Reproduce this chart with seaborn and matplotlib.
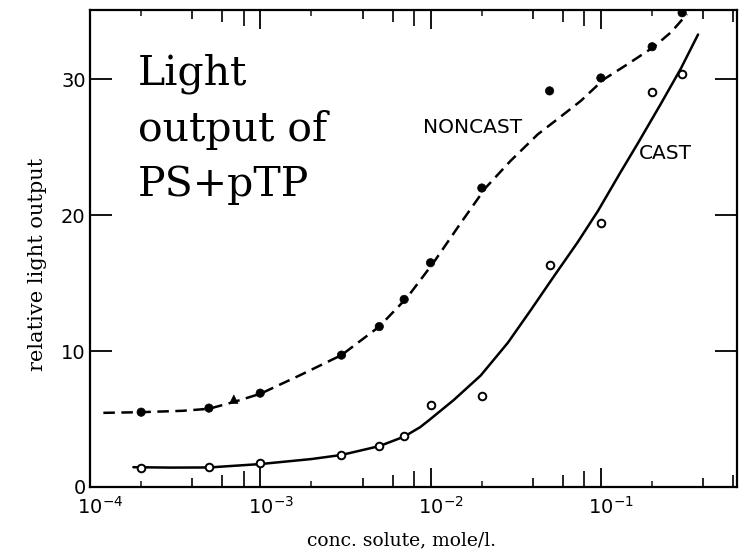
import matplotlib
matplotlib.use("Agg")
import matplotlib.pyplot as plt
import seaborn as sns
import pandas as pd
from matplotlib.ticker import NullLocator, LogLocator, NullFormatter
from matplotlib.transforms import ScaledTranslation

# Measured light output, non-cast samples (filled symbols)
conc_noncast = [2e-4, 5e-4, 7e-4, 1e-3, 3e-3, 5e-3, 7e-3, 1e-2, 2e-2, 5e-2, 1e-1, 2e-1, 3e-1]
light_noncast = [5.5, 5.8, 6.45, 6.9, 9.7, 11.8, 13.8, 16.5, 22.0, 29.15, 30.1, 32.4, 34.9]
symbol_noncast = ["dot", "dot", "tri", "dot", "dot", "dot", "dot", "dot", "dot", "dot", "dot", "dot", "dot"]

# Measured light output, cast samples (open symbols)
conc_cast = [2e-4, 5e-4, 1e-3, 3e-3, 5e-3, 7e-3, 1e-2, 2e-2, 5e-2, 1e-1, 2e-1, 3e-1]
light_cast = [1.4, 1.45, 1.75, 2.35, 3.0, 3.75, 6.0, 6.7, 16.3, 19.4, 29.1, 30.4]

# Drawn trend curves through each set
curve_noncast_conc = [1.2e-4, 2e-4, 3.5e-4, 5e-4, 7e-4, 1e-3, 1.7e-3, 3e-3, 5e-3, 7.3e-3,
                      1.04e-2, 1.5e-2, 2.1e-2, 2.95e-2, 4.26e-2, 5.6e-2, 7.6e-2,
                      1.04e-1, 1.45e-1, 2.05e-1, 2.6e-1, 3.2e-1]
curve_noncast_light = [5.45, 5.5, 5.6, 5.75, 6.25, 6.85, 8.2, 9.7, 11.8, 13.95,
                       16.5, 19.4, 22.0, 24.0, 25.95, 27.1, 28.4,
                       30.0, 31.15, 32.4, 33.5, 34.8]

curve_cast_conc = [1.8e-4, 3e-4, 5e-4, 1e-3, 2e-3, 3e-3, 5e-3, 7e-3, 8.7e-3, 1.0e-2,
                   1.37e-2, 1.97e-2, 2.84e-2, 3.87e-2, 5.3e-2, 7.3e-2, 9.6e-2,
                   1.31e-1, 1.65e-1, 2.25e-1, 2.95e-1, 3.72e-1]
curve_cast_light = [1.45, 1.42, 1.43, 1.68, 2.05, 2.35, 3.0, 3.7, 4.4, 5.0,
                    6.4, 8.2, 10.6, 13.0, 15.5, 18.0, 20.3,
                    23.2, 25.3, 28.2, 30.8, 33.3]

major_ticks = [1e-4, 1e-3, 1e-2, 1e-1]
major_labels = [r"$10^{-4}$", r"$10^{-3}$", r"$10^{-2}$", r"$10^{-1}$"]
y_ticks = [0, 10, 20, 30]

sns.set_theme(style="white")
plt.rcParams["font.family"] = ["DejaVu Sans"]

fig, ax = plt.subplots(figsize=(7.49, 5.59), dpi=100)
fig.subplots_adjust(left=0.120, right=0.984, bottom=0.129, top=0.982)

noncast = pd.DataFrame({"conc": conc_noncast, "light": light_noncast, "symbol": symbol_noncast})
cast = pd.DataFrame({"conc": conc_cast, "light": light_cast})

sns.lineplot(x=curve_noncast_conc, y=curve_noncast_light, ax=ax, color="black",
             linewidth=1.8, linestyle=(0, (4.6, 2.6)), sort=False)
sns.lineplot(x=curve_cast_conc, y=curve_cast_light, ax=ax, color="black",
             linewidth=1.8, sort=False)

sns.scatterplot(data=noncast, x="conc", y="light", style="symbol",
                markers={"dot": "o", "tri": "^"}, s=36, color="black",
                edgecolor="black", linewidth=0.5, legend=False, ax=ax, zorder=3)
sns.scatterplot(data=cast, x="conc", y="light", marker="o", s=30, color="white",
                edgecolor="black", linewidth=1.4, legend=False, ax=ax, zorder=3)

ax.set_xscale("log")
ax.set_xlim(1e-4, 0.63)
ax.set_ylim(0, 35.1)

ax.set_xticks(major_ticks, major_labels)
ax.xaxis.set_minor_locator(LogLocator(base=10, subs=[2.0], numticks=20))
ax.xaxis.set_minor_formatter(NullFormatter())
ax.set_yticks(y_ticks, [str(v) for v in y_ticks])

ax.tick_params(axis="x", which="major", direction="in", length=13.5, width=1.3,
               top=True, bottom=True, labelsize=14, pad=6.5, colors="black")
ax.tick_params(axis="x", which="minor", direction="in", length=4.5, width=1.2,
               top=True, bottom=True)
ax.tick_params(axis="y", which="major", direction="in", length=16, width=1.3,
               left=True, right=True, labelsize=14, pad=3, colors="black")

# keep the mantissa "10" centred on its tick, exponent hanging to the right
shift = ScaledTranslation(-12.4 / 100, 0, fig.dpi_scale_trans)
for lab in ax.get_xticklabels():
    lab.set_horizontalalignment("left")
    lab.set_transform(lab.get_transform() + shift)

# intermediate decade ticks grow longer toward the next power of ten
for sub, length in [(4, 6.5), (6, 8.5), (8, 11.5)]:
    locs = [sub * 10.0 ** e for e in range(-4, 0) if sub * 10.0 ** e < 0.63]
    for side in ("bottom", "top"):
        sec = ax.secondary_xaxis(side)
        sec.set_xticks(locs)
        sec.xaxis.set_minor_locator(NullLocator())
        sec.tick_params(axis="x", which="major", direction="in", length=length,
                        width=1.2, labelbottom=False, labeltop=False, colors="black")
        for sp in sec.spines.values():
            sp.set_visible(False)

for sp in ax.spines.values():
    sp.set_color("black")
    sp.set_linewidth(1.6)

ax.set_xlabel("conc. solute, mole/l.", fontfamily="DejaVu Serif", fontsize=13.5,
              color="black")
ax.xaxis.set_label_coords(0.482, -0.094)
ax.set_ylabel("relative light output", fontfamily="DejaVu Serif", fontsize=15,
              color="black")
ax.yaxis.set_label_coords(-0.066, 0.466)

ax.text(0.074, 0.908, "Light\noutput of\nPS+pTP", transform=ax.transAxes,
        fontfamily="DejaVu Serif", fontsize=29.5, linespacing=1.5,
        ha="left", va="top", color="black")
ax.text(0.592, 0.753, "NONCAST", transform=ax.transAxes, fontsize=14.5,
        ha="center", va="center", color="black")
ax.text(0.890, 0.700, "CAST", transform=ax.transAxes, fontsize=14.5,
        ha="center", va="center", color="black")

fig.savefig("out.png", dpi=100, facecolor="white")
